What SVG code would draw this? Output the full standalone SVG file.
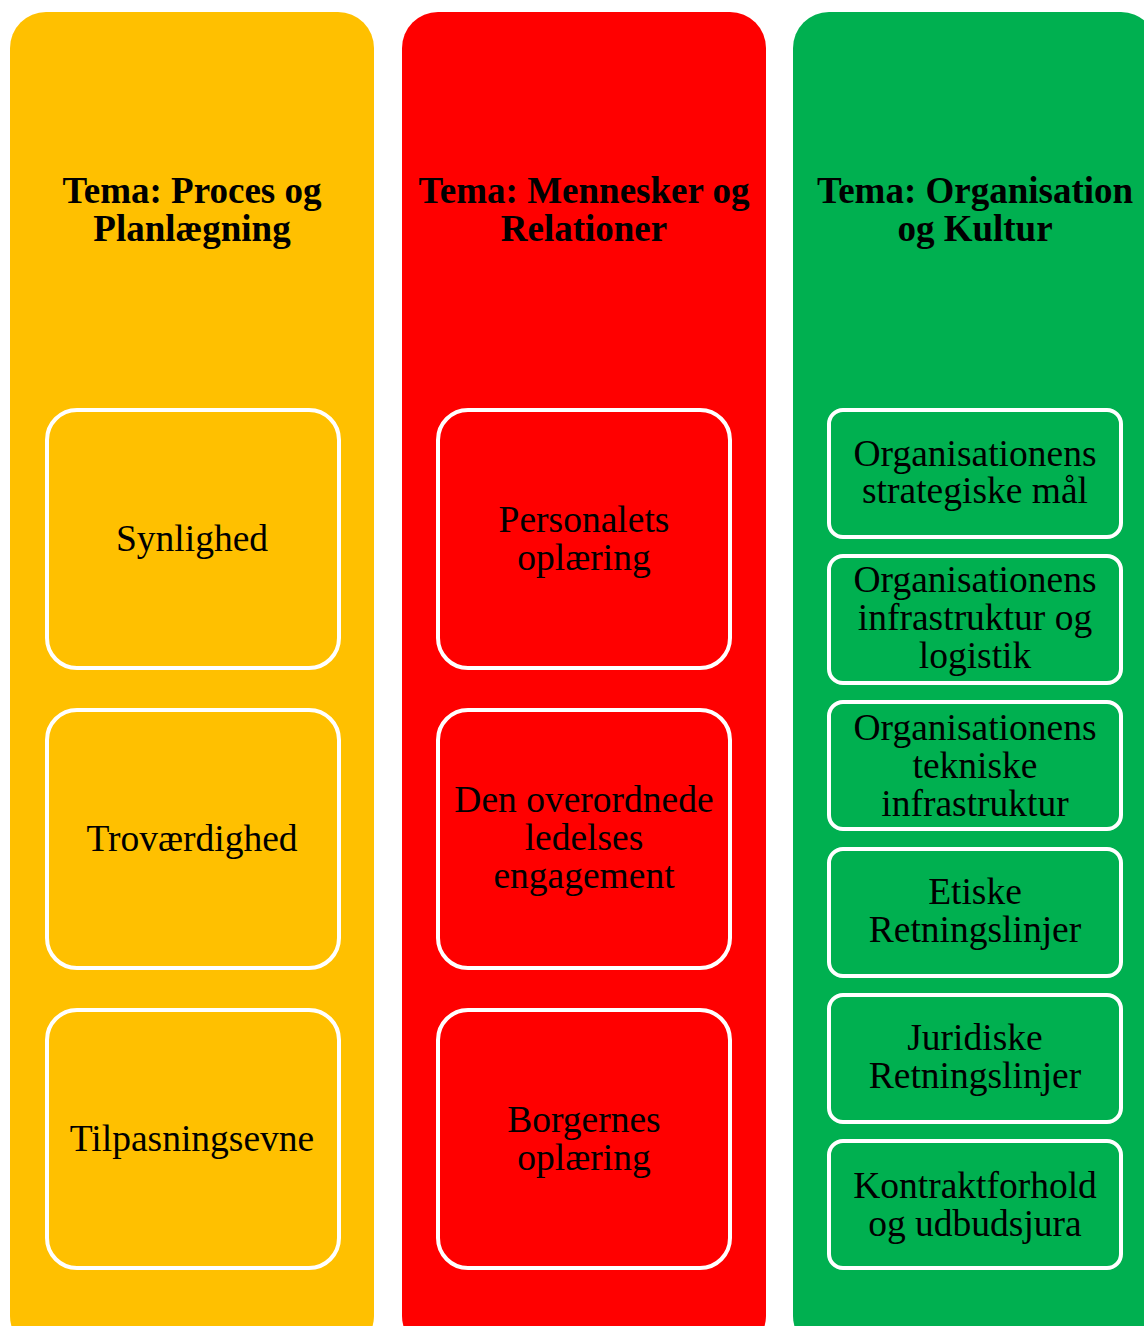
<svg xmlns="http://www.w3.org/2000/svg" width="1144" height="1326" viewBox="0 0 1144 1326">
<style>
.col{stroke:none}
.box{stroke:#fff;stroke-width:4}
.hd{font-family:"Liberation Serif",serif;font-weight:bold;font-size:37px;text-anchor:middle;fill:#000}
.tx{font-family:"Liberation Serif",serif;font-size:37.5px;text-anchor:middle;fill:#000}
</style>
<rect width="1144" height="1326" fill="#fff"/>
<g id="col-proces">
<rect class="col" x="10" y="12" width="364" height="1340" rx="36" fill="#FFC000"/>
<text class="hd" x="192" y="203">Tema: Proces og</text>
<text class="hd" x="192" y="241">Planlægning</text>
</g>
<g id="col-mennesker">
<rect class="col" x="402" y="12" width="364" height="1340" rx="36" fill="#FF0000"/>
<text class="hd" x="584" y="203">Tema: Mennesker og</text>
<text class="hd" x="584" y="241">Relationer</text>
</g>
<g id="col-organisation">
<rect class="col" x="793" y="12" width="364" height="1340" rx="36" fill="#00B050"/>
<text class="hd" x="975" y="203">Tema: Organisation</text>
<text class="hd" x="975" y="241">og Kultur</text>
</g>
<g id="n-synlighed"><rect class="box" x="47" y="410" width="292" height="258" rx="30" fill="#FFC000"/><text class="tx" x="192" y="551">Synlighed</text></g>
<g id="n-trovaerdighed"><rect class="box" x="47" y="710" width="292" height="258" rx="30" fill="#FFC000"/><text class="tx" x="192" y="851">Troværdighed</text></g>
<g id="n-tilpasningsevne"><rect class="box" x="47" y="1010" width="292" height="258" rx="30" fill="#FFC000"/><text class="tx" x="192" y="1151">Tilpasningsevne</text></g>
<g id="n-personalets"><rect class="box" x="438" y="410" width="292" height="258" rx="30" fill="#FF0000"/><text class="tx" x="584" y="532">Personalets</text><text class="tx" x="584" y="570">oplæring</text></g>
<g id="n-ledelse"><rect class="box" x="438" y="710" width="292" height="258" rx="30" fill="#FF0000"/><text class="tx" x="584" y="812">Den overordnede</text><text class="tx" x="584" y="850">ledelses</text><text class="tx" x="584" y="888">engagement</text></g>
<g id="n-borgernes"><rect class="box" x="438" y="1010" width="292" height="258" rx="30" fill="#FF0000"/><text class="tx" x="584" y="1132">Borgernes</text><text class="tx" x="584" y="1170">oplæring</text></g>
<g id="n-strategiske"><rect class="box" x="829" y="410" width="292" height="127" rx="14" fill="#00B050"/><text class="tx" x="975" y="466">Organisationens</text><text class="tx" x="975" y="503">strategiske mål</text></g>
<g id="n-infrastruktur"><rect class="box" x="829" y="556" width="292" height="127" rx="14" fill="#00B050"/><text class="tx" x="975" y="592">Organisationens</text><text class="tx" x="975" y="630">infrastruktur og</text><text class="tx" x="975" y="668">logistik</text></g>
<g id="n-tekniske"><rect class="box" x="829" y="702" width="292" height="127" rx="14" fill="#00B050"/><text class="tx" x="975" y="740">Organisationens</text><text class="tx" x="975" y="778">tekniske</text><text class="tx" x="975" y="816">infrastruktur</text></g>
<g id="n-etiske"><rect class="box" x="829" y="849" width="292" height="127" rx="14" fill="#00B050"/><text class="tx" x="975" y="904">Etiske</text><text class="tx" x="975" y="942">Retningslinjer</text></g>
<g id="n-juridiske"><rect class="box" x="829" y="995" width="292" height="127" rx="14" fill="#00B050"/><text class="tx" x="975" y="1050">Juridiske</text><text class="tx" x="975" y="1088">Retningslinjer</text></g>
<g id="n-kontrakt"><rect class="box" x="829" y="1141" width="292" height="127" rx="14" fill="#00B050"/><text class="tx" x="975" y="1198">Kontraktforhold</text><text class="tx" x="975" y="1236">og udbudsjura</text></g>
<g id="connectors"></g>
</svg>
